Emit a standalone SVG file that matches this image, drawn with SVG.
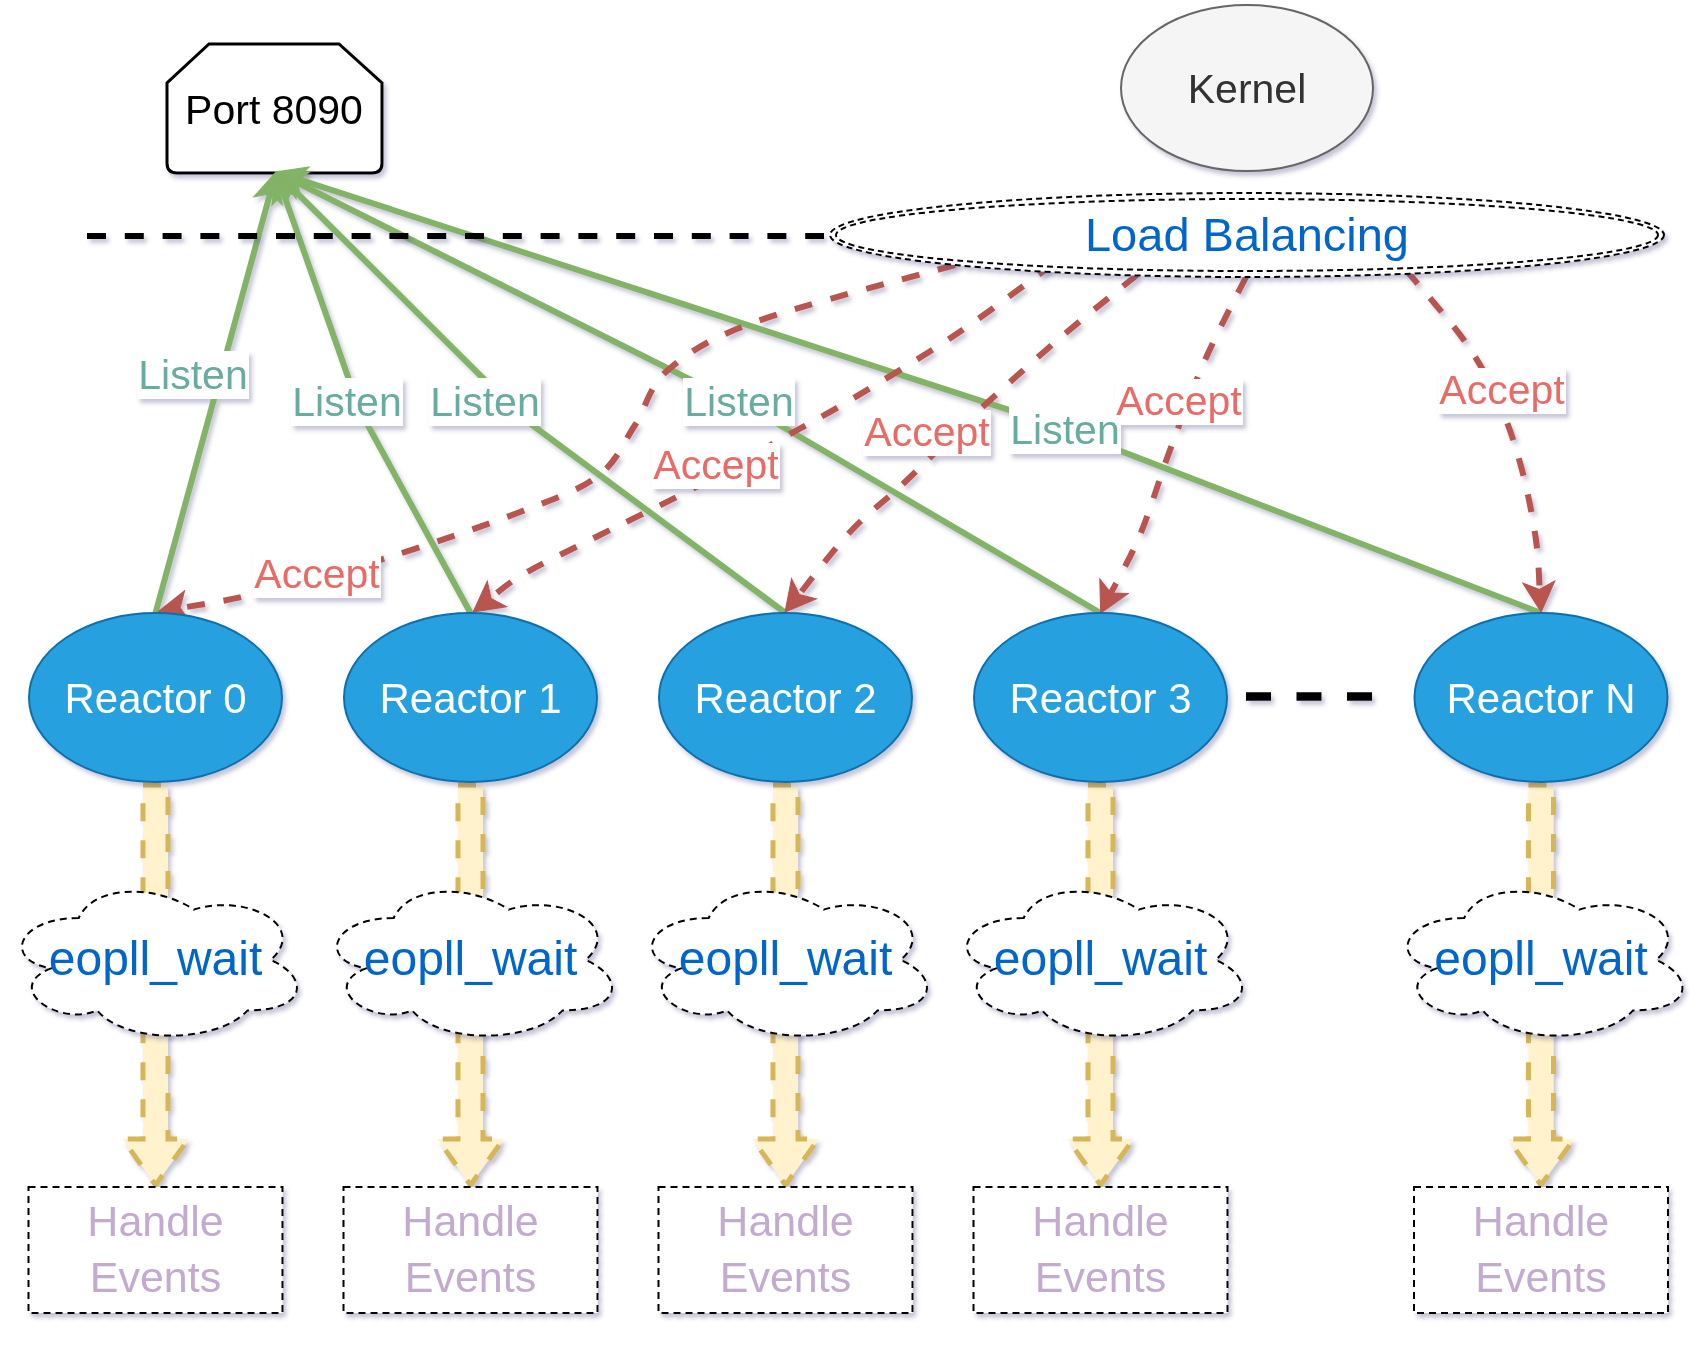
<svg xmlns="http://www.w3.org/2000/svg" xmlns:xlink="http://www.w3.org/1999/xlink" width="1704" height="1348" viewBox="0 0 1704 1348">
<style>
.t{font-family:"Liberation Sans",Arial,Helvetica,sans-serif;text-anchor:middle}
.reactor{fill:#26a0de;stroke:#0f6fae;stroke-width:2}
.rt{fill:#ffffff;font-size:42px}
.cloud{fill:#ffffff;stroke:#000000;stroke-width:2;stroke-dasharray:7 5}
.ct{fill:#0066cc;font-size:48px}
.hbox{fill:#ffffff;stroke:#000000;stroke-width:2;stroke-dasharray:7 5}
.ht{fill:#c3abd0;font-size:43px}
.listen{fill:none;stroke:#82b366;stroke-width:6}
.accept{fill:none;stroke:#b85450;stroke-width:6;stroke-dasharray:18 19}
.lbl{fill:#ffffff}
.lt{fill:#67ab9f;font-size:41px}
.at{fill:#ea6b66;font-size:41px}
.flex{fill:#fff2cc;stroke:#d6b656;stroke-width:5;stroke-dasharray:18 19}
.sh{filter:url(#shadow)}
</style>
<defs>
<filter id="shadow" filterUnits="userSpaceOnUse" x="0" y="0" width="1704" height="1348">
<feDropShadow dx="3" dy="4" stdDeviation="2.2" flood-color="#5a5a8c" flood-opacity="0.35"/>
</filter>
<marker id="mg" markerUnits="userSpaceOnUse" viewBox="-17 -17 34 34" markerWidth="34" markerHeight="34" refX="0" refY="0" orient="auto">
<path d="M15,0 L-15,-15 L-7.5,0 L-15,15 Z" fill="#82b366" stroke="#82b366" stroke-width="1"/>
</marker>
<marker id="mr" markerUnits="userSpaceOnUse" viewBox="-17 -17 34 34" markerWidth="34" markerHeight="34" refX="0" refY="0" orient="auto">
<path d="M15,0 L-15,-16 L-7.5,0 L-15,16 Z" fill="#b85450" stroke="#b85450" stroke-width="1"/>
</marker>
<path id="cloudp" d="M76.75,42 C15.35,42 0,84 49.12,92.4 C0,110.88 55.26,151.2 95.17,134.4 C122.8,168 214.9,168 245.6,134.4 C307,134.4 307,100.8 268.63,84 C307,50.4 245.6,16.8 191.88,33.6 C153.5,8.4 92.1,8.4 76.75,42 Z"/>
<path id="flexp" d="M-12.5,785 H12.5 V1139 H33 L0,1185 L-33,1139 H-12.5 Z"/>
</defs>
<rect x="0" y="0" width="1704" height="1348" fill="#ffffff"/>

<g id="node-port" class="sh">
<path d="M209,44 H339 L382,83 V163 Q382,173 372,173 H177 Q167,173 167,163 V83 Z" fill="#ffffff" stroke="#000000" stroke-width="3"/>
<text class="t" x="274" y="124" font-size="41" fill="#000000">Port 8090</text>
</g>

<g id="connectors" class="sh">
<g id="flex-arrows">
<use xlink:href="#flexp" href="#flexp" x="155.5" class="flex"/>
<use xlink:href="#flexp" href="#flexp" x="470.5" class="flex"/>
<use xlink:href="#flexp" href="#flexp" x="785.5" class="flex"/>
<use xlink:href="#flexp" href="#flexp" x="1100.5" class="flex"/>
<use xlink:href="#flexp" href="#flexp" x="1541" class="flex"/>
</g>
<g id="listen-edges">
<path class="listen" marker-end="url(#mg)" d="M155.5,613 L272,186.5"/>
<path class="listen" marker-end="url(#mg)" d="M470.5,613 L360,411 L281,186.2"/>
<path class="listen" marker-end="url(#mg)" d="M785.5,613 L524,419 L286.6,182.6"/>
<path class="listen" marker-end="url(#mg)" d="M1100.5,613 L771,420 L289.4,178.7"/>
<path class="listen" marker-end="url(#mg)" d="M1541,613 L1040,420 L290.3,176.6"/>
<rect class="lbl" x="137" y="351" width="112" height="48"/>
<text class="t lt" x="193" y="389">Listen</text>
<rect class="lbl" x="291" y="378" width="112" height="48"/>
<text class="t lt" x="347" y="416">Listen</text>
<rect class="lbl" x="429" y="378" width="112" height="48"/>
<text class="t lt" x="485" y="416">Listen</text>
<rect class="lbl" x="683" y="378" width="112" height="48"/>
<text class="t lt" x="739" y="416">Listen</text>
<rect class="lbl" x="1009" y="406" width="112" height="48"/>
<text class="t lt" x="1065" y="444">Listen</text>
</g>
<g id="accept-edges">
<path class="accept" marker-end="url(#mr)" d="M955,265 C921.7,274.5 802.8,304.5 755,322 C707.2,339.5 688,352.8 668,370 C648,387.2 646.7,407.3 635,425 C623.3,442.7 617.2,461.5 598,476 C578.8,490.5 555.3,498.3 520,512 C484.7,525.7 430.2,544.3 386,558 C341.8,571.7 290.6,585.5 255,594 C219.4,602.5 186.4,606.7 172.7,609.2"/>
<path class="accept" marker-end="url(#mr)" d="M1053,264 C1036.7,275.8 988.5,312.5 955,335 C921.5,357.5 880.7,381.8 852,399 C823.3,416.2 808.3,423.7 783,438 C757.7,452.3 730.8,468.7 700,485 C669.2,501.3 627.7,521 598,536 C568.3,551 540.8,563.8 522,575 C503.2,586.2 491.2,598.3 485,603"/>
<path class="accept" marker-end="url(#mr)" d="M1137,275 C1124.2,285.5 1087,314.8 1060,338 C1033,361.2 1000.8,390 975,414 C949.2,438 925.8,462.3 905,482 C884.2,501.7 868.4,512.3 850,532 C831.6,551.7 803.75,589 794.5,600.4"/>
<path class="accept" marker-end="url(#mr)" d="M1246,277 C1239.2,290.8 1217.7,331.2 1205,360 C1192.3,388.8 1180.8,420.8 1170,450 C1159.2,479.2 1150.4,510 1140,535 C1129.6,560 1112.8,588.8 1107.4,599.6"/>
<path class="accept" marker-end="url(#mr)" d="M1406,270 C1416,282.2 1450.3,320.5 1466,343 C1481.7,365.5 1490.7,383.8 1500,405 C1509.3,426.2 1516,447.5 1522,470 C1528,492.5 1533,518.8 1536,540 C1539,561.2 1539.3,587.5 1540,597"/>
<rect class="lbl" x="253" y="552" width="128" height="46"/>
<text class="t at" x="317" y="588">Accept</text>
<rect class="lbl" x="652" y="443" width="128" height="46"/>
<text class="t at" x="716" y="479">Accept</text>
<rect class="lbl" x="863" y="410" width="128" height="46"/>
<text class="t at" x="927" y="446">Accept</text>
<rect class="lbl" x="1115" y="379" width="128" height="46"/>
<text class="t at" x="1179" y="415">Accept</text>
<rect class="lbl" x="1438" y="368" width="128" height="46"/>
<text class="t at" x="1502" y="404">Accept</text>
</g>
</g>

<g id="separators" class="sh">
<path d="M87,236 H824" fill="none" stroke="#000000" stroke-width="6" stroke-dasharray="19 18.8"/>
<path d="M1246,696.5 H1372" fill="none" stroke="#000000" stroke-width="8.5" stroke-dasharray="25 25.5"/>
</g>

<g id="node-kernel" class="sh">
<ellipse cx="1247" cy="88" rx="126" ry="83" fill="#f5f5f5" stroke="#666666" stroke-width="2"/>
<text class="t" x="1247" y="103" font-size="41" fill="#333333">Kernel</text>
</g>

<g id="node-load-balancing" class="sh">
<ellipse cx="1247" cy="235" rx="417" ry="42" fill="#ffffff" stroke="#000000" stroke-width="2" stroke-dasharray="6 4"/>
<ellipse cx="1247" cy="235" rx="411" ry="36" fill="none" stroke="#000000" stroke-width="2" stroke-dasharray="6 4"/>
<text class="t" x="1247" y="251" font-size="47" fill="#0066cc">Load Balancing</text>
</g>

<g id="node-reactor-0" class="sh"><ellipse class="reactor" cx="155.5" cy="697.5" rx="126.5" ry="84.5"/><text class="t rt" x="155.5" y="713">Reactor 0</text></g>
<g id="node-reactor-1" class="sh"><ellipse class="reactor" cx="470.5" cy="697.5" rx="126.5" ry="84.5"/><text class="t rt" x="470.5" y="713">Reactor 1</text></g>
<g id="node-reactor-2" class="sh"><ellipse class="reactor" cx="785.5" cy="697.5" rx="126.5" ry="84.5"/><text class="t rt" x="785.5" y="713">Reactor 2</text></g>
<g id="node-reactor-3" class="sh"><ellipse class="reactor" cx="1100.5" cy="697.5" rx="126.5" ry="84.5"/><text class="t rt" x="1100.5" y="713">Reactor 3</text></g>
<g id="node-reactor-n" class="sh"><ellipse class="reactor" cx="1541" cy="697.5" rx="126.5" ry="84.5"/><text class="t rt" x="1541" y="713">Reactor N</text></g>

<g id="node-epoll-0" class="sh"><use xlink:href="#cloudp" href="#cloudp" x="2" y="876" class="cloud"/><text class="t ct" x="155.5" y="975">eopll_wait</text></g>
<g id="node-epoll-1" class="sh"><use xlink:href="#cloudp" href="#cloudp" x="317" y="876" class="cloud"/><text class="t ct" x="470.5" y="975">eopll_wait</text></g>
<g id="node-epoll-2" class="sh"><use xlink:href="#cloudp" href="#cloudp" x="632" y="876" class="cloud"/><text class="t ct" x="785.5" y="975">eopll_wait</text></g>
<g id="node-epoll-3" class="sh"><use xlink:href="#cloudp" href="#cloudp" x="947" y="876" class="cloud"/><text class="t ct" x="1100.5" y="975">eopll_wait</text></g>
<g id="node-epoll-n" class="sh"><use xlink:href="#cloudp" href="#cloudp" x="1387.5" y="876" class="cloud"/><text class="t ct" x="1541" y="975">eopll_wait</text></g>

<g id="node-handle-0" class="sh"><rect class="hbox" x="28.5" y="1187" width="254" height="126"/><text class="t ht" x="155.5" y="1236">Handle</text><text class="t ht" x="155.5" y="1292">Events</text></g>
<g id="node-handle-1" class="sh"><rect class="hbox" x="343.5" y="1187" width="254" height="126"/><text class="t ht" x="470.5" y="1236">Handle</text><text class="t ht" x="470.5" y="1292">Events</text></g>
<g id="node-handle-2" class="sh"><rect class="hbox" x="658.5" y="1187" width="254" height="126"/><text class="t ht" x="785.5" y="1236">Handle</text><text class="t ht" x="785.5" y="1292">Events</text></g>
<g id="node-handle-3" class="sh"><rect class="hbox" x="973.5" y="1187" width="254" height="126"/><text class="t ht" x="1100.5" y="1236">Handle</text><text class="t ht" x="1100.5" y="1292">Events</text></g>
<g id="node-handle-n" class="sh"><rect class="hbox" x="1414" y="1187" width="254" height="126"/><text class="t ht" x="1541" y="1236">Handle</text><text class="t ht" x="1541" y="1292">Events</text></g>
</svg>
